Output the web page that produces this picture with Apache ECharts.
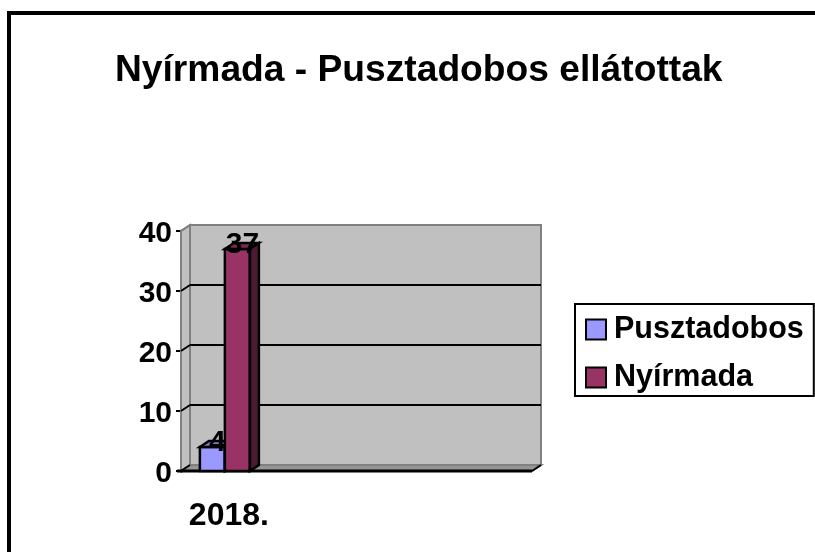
<!DOCTYPE html>
<html>
<head>
<meta charset="utf-8">
<style>html,body{margin:0;padding:0;background:#fff}#chart{width:815px;height:552px}</style>
<script src="https://cdn.jsdelivr.net/npm/echarts@6/dist/echarts.min.js"></script>
</head>
<body>
<div id="chart"></div>
<script>
// reference data
var categories = ['2018.', '', '', ''];
var pusztadobos = [4, null, null, null];
var nyirmada = [37, null, null, null];
var yTicks = [0, 10, 20, 30, 40];

var font = '"Liberation Sans", Arial, sans-serif';
var depthX = 9, depthY = 6;   // 3d offset of the back wall
var barW = 25;

function shade(points, fill, stroke, lw) {
	return {type: 'polygon', shape: {points: points}, style: {fill: fill, stroke: stroke, lineWidth: lw}};
}

// back wall, side wall, floor and grid lines
function renderWall(params, api) {
	var cs = params.coordSys;
	var l = cs.x, r = cs.x + cs.width, t = cs.y, b = cs.y + cs.height;
	var kids = [
		shade([[l + depthX, t - depthY], [r + depthX, t - depthY], [r + depthX, b - depthY], [l + depthX, b - depthY]], '#c0c0c0', '#808080', 2),
		shade([[l, t], [l + depthX, t - depthY], [l + depthX, b - depthY], [l, b]], '#c0c0c0', '#808080', 2),
		shade([[l, b], [l + depthX, b - depthY], [r + depthX, b - depthY], [r, b]], '#969696', '#808080', 2)
	];
	yTicks.forEach(function(v) {
		var y = api.coord([0, v])[1];
		if (v != 0 && v != 40) {
			kids.push({type: 'line', shape: {x1: l + depthX, y1: y - depthY, x2: r + depthX, y2: y - depthY}, style: {stroke: '#000', lineWidth: 2}});
		}
		kids.push({type: 'line', shape: {x1: l, y1: y, x2: l + depthX, y2: y - depthY}, style: {stroke: v == 40 ? '#808080' : '#000', lineWidth: 2}});
	});
	kids.push({type: 'line', shape: {x1: l - 4, y1: b, x2: r, y2: b}, style: {stroke: '#000', lineWidth: 3}});
	kids.push({type: 'line', shape: {x1: r, y1: b, x2: r + depthX, y2: b - depthY}, style: {stroke: '#000', lineWidth: 2}});
	return {type: 'group', children: kids};
}

function renderBar(offset, front, top, side) {
	return function(params, api) {
		var c = api.coord([api.value(0), api.value(1)]);
		var b = api.coord([api.value(0), 0])[1];
		var x0 = c[0] + offset, x1 = x0 + barW, y = c[1];
		return {type: 'group', children: [
			shade([[x0, y], [x1, y], [x1, b], [x0, b]], front, '#000', 2.5),
			shade([[x0, y], [x0 + depthX, y - depthY], [x1 + depthX, y - depthY], [x1, y]], top, '#000', 2.5),
			shade([[x1, y], [x1 + depthX, y - depthY], [x1 + depthX, b - depthY], [x1, b]], side, '#000', 2.5)
		]};
	};
}

// value labels sit above both bars
function renderLabel(offset) {
	return function(params, api) {
		var c = api.coord([api.value(0), api.value(1)]);
		return {type: 'text', style: {text: String(api.value(1)), x: c[0] + offset + barW / 2 + 5, y: c[1] - 4, align: 'center', verticalAlign: 'middle', fill: '#000', font: 'bold 30px ' + font}};
	};
}

var chart = echarts.init(document.getElementById('chart'));
chart.setOption({
	animation: false,
	backgroundColor: '#fff',
	title: {
		text: 'Nyírmada - Pusztadobos ellátottak',
		left: 110, top: 47,
		textStyle: {fontFamily: font, fontSize: 37.2, fontWeight: 'bold', color: '#000'}
	},
	legend: {
		left: 575, top: 304,
		orient: 'vertical',
		padding: [10, 10, 3, 10],
		itemGap: 17,
		itemWidth: 20, itemHeight: 20,
		icon: 'rect',
		backgroundColor: '#fff',
		borderColor: '#000', borderWidth: 2,
		textStyle: {fontFamily: font, fontSize: 30.5, fontWeight: 'bold', color: '#000', padding: [2, 0, 0, 3]},
		data: ['Pusztadobos', 'Nyírmada']
	},
	grid: {left: 181, top: 231, width: 351, height: 240},
	xAxis: {
		type: 'category',
		data: categories,
		axisLine: {show: false},
		axisTick: {show: false},
		axisLabel: {margin: 29, interval: 0, fontFamily: font, fontSize: 32, fontWeight: 'bold', color: '#000', padding: [0, 0, 0, 8]}
	},
	yAxis: {
		type: 'value', min: 0, max: 40, interval: 10,
		splitLine: {show: false},
		axisLine: {show: true, lineStyle: {color: '#000', width: 3}},
		axisTick: {show: true, length: 5, lineStyle: {color: '#000', width: 2}},
		axisLabel: {
			margin: 9,
			formatter: '{v|{value}}',
			rich: {v: {fontFamily: font, fontSize: 30, fontWeight: 'bold', color: '#000', padding: [6, 0, 0, 0]}}
		}
	},
	series: [
		{type: 'custom', name: 'wall', silent: true, z: 1, data: [[0, 0]], encode: {x: 0, y: 1}, renderItem: renderWall},
		{type: 'custom', name: 'Pusztadobos', z: 2, data: [[0, pusztadobos[0]]], encode: {x: 0, y: 1},
			itemStyle: {color: '#9999ff', borderColor: '#000', borderWidth: 3},
			renderItem: renderBar(-25, '#9999ff', '#7a7acc', '#4d4d80')},
		{type: 'custom', name: 'Nyírmada', z: 3, data: [[0, nyirmada[0]]], encode: {x: 0, y: 1},
			itemStyle: {color: '#993366', borderColor: '#000', borderWidth: 3},
			renderItem: renderBar(0, '#993366', '#7a2952', '#4d1a33')},
		{type: 'custom', name: 'label1', silent: true, z: 4, data: [[0, pusztadobos[0]]], encode: {x: 0, y: 1}, renderItem: renderLabel(-25)},
		{type: 'custom', name: 'label2', silent: true, z: 4, data: [[0, nyirmada[0]]], encode: {x: 0, y: 1}, renderItem: renderLabel(0)}
	],
	graphic: [
		{type: 'rect', shape: {x: 7, y: 11, width: 4, height: 541}, style: {fill: '#000'}},
		{type: 'rect', shape: {x: 7, y: 11, width: 808, height: 4}, style: {fill: '#000'}}
	]
});
</script>
</body>
</html>
